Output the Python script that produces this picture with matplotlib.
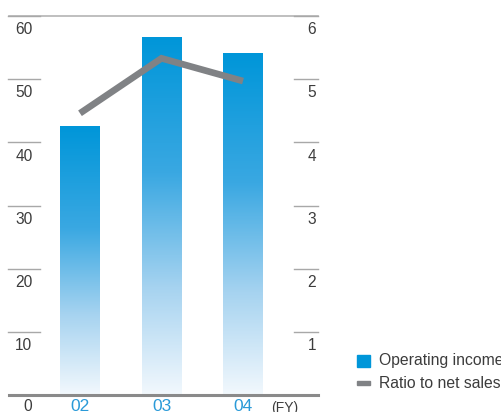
import numpy as np
import matplotlib.pyplot as plt
from matplotlib.colors import LinearSegmentedColormap
from matplotlib.patches import Rectangle
import matplotlib.transforms as mtransforms

plt.rcParams['font.family'] = ['Liberation Sans', 'DejaVu Sans']

years = ['02', '03', '04']
operating_income = [42.5, 56.6, 54.0]
ratio_to_sales = [4.46, 5.33, 4.97]
left_ticks = [10, 20, 30, 40, 50, 60]
right_ticks = [1, 2, 3, 4, 5, 6]

blue = '#0096d9'
grey_line = '#808285'
text_col = '#3c3c3c'

fig = plt.figure(figsize=(5.02, 4.12), dpi=100)
W, H = 502, 412
ax = fig.add_axes([9 / W, (H - 395) / H, 309 / W, 379 / H])
ax.axis('off')

ax2 = ax.twinx()
ax2.set_ylim(0, 6)
ax2.axis('off')

# bars with vertical fade, light at the bottom
cmap = LinearSegmentedColormap.from_list(
    'fade', [(0, '#f2f8fd'), (0.3, '#a6d3f0'), (0.62, '#3aa8e2'), (1, blue)])
grad = np.linspace(0, 1, 256).reshape(-1, 1)
bw = 0.49
x = np.arange(len(years))
for xi, v in zip(x, operating_income):
    ax.imshow(grad, cmap=cmap, origin='lower', aspect='auto',
              extent=(xi - bw / 2, xi + bw / 2, 0, v), zorder=2)
ax.set_xlim(-0.871, 2.92)
ax.set_ylim(0, 60)

ax2.plot(x, ratio_to_sales, color=grey_line, lw=4.8, solid_joinstyle='miter',
         solid_capstyle='butt', zorder=3)

# tick rules and labels
tl = mtransforms.blended_transform_factory(ax.transAxes, ax.transData)
tr = mtransforms.blended_transform_factory(ax2.transAxes, ax2.transData)
ax.plot([0, 1], [60, 60], transform=tl, color='#b4b4b4', lw=1.2, clip_on=False)
ax.plot([0, 1], [0, 0], transform=tl, color='#8a8a8a', lw=2.2, clip_on=False, zorder=4)
for t in left_ticks:
    ax.plot([-0.003, 0.1], [t, t], transform=tl, color='#a8a8a8', lw=1, clip_on=False)
    ax.text(0.02, t - 1.0, str(t), transform=tl, ha='left', va='top',
            fontsize=11.2, color=text_col)
for t in right_ticks:
    ax2.plot([0.922, 1.0], [t, t], transform=tr, color='#a8a8a8', lw=1, clip_on=False)
    ax2.text(0.994, t - 0.1, str(t), transform=tr, ha='right', va='top',
             fontsize=11.2, color=text_col)

ax.text(0.061, -0.6, '0', transform=tl, ha='center', va='top', fontsize=11.2, color=text_col)
for xi, lab in zip(x, years):
    ax.text(xi, -0.6, lab, ha='center', va='top', fontsize=12.5, color='#2a9ad8')
ax.text(2.51, -0.9, '(FY)', ha='center', va='top', fontsize=10, color=text_col)

# legend
fig.patches.append(Rectangle((357 / W, (H - 367) / H), 13 / W, 12 / H,
                             transform=fig.transFigure, color=blue))
fig.patches.append(Rectangle((357 / W, (H - 385) / H), 13 / W, 4 / H,
                             transform=fig.transFigure, color=grey_line))
fig.text(379 / W, (H - 361) / H, 'Operating income', ha='left', va='center',
         fontsize=11.3, color=text_col)
fig.text(379 / W, (H - 383) / H, 'Ratio to net sales', ha='left', va='center',
         fontsize=11.3, color=text_col)

fig.savefig('out.png', dpi=100)
